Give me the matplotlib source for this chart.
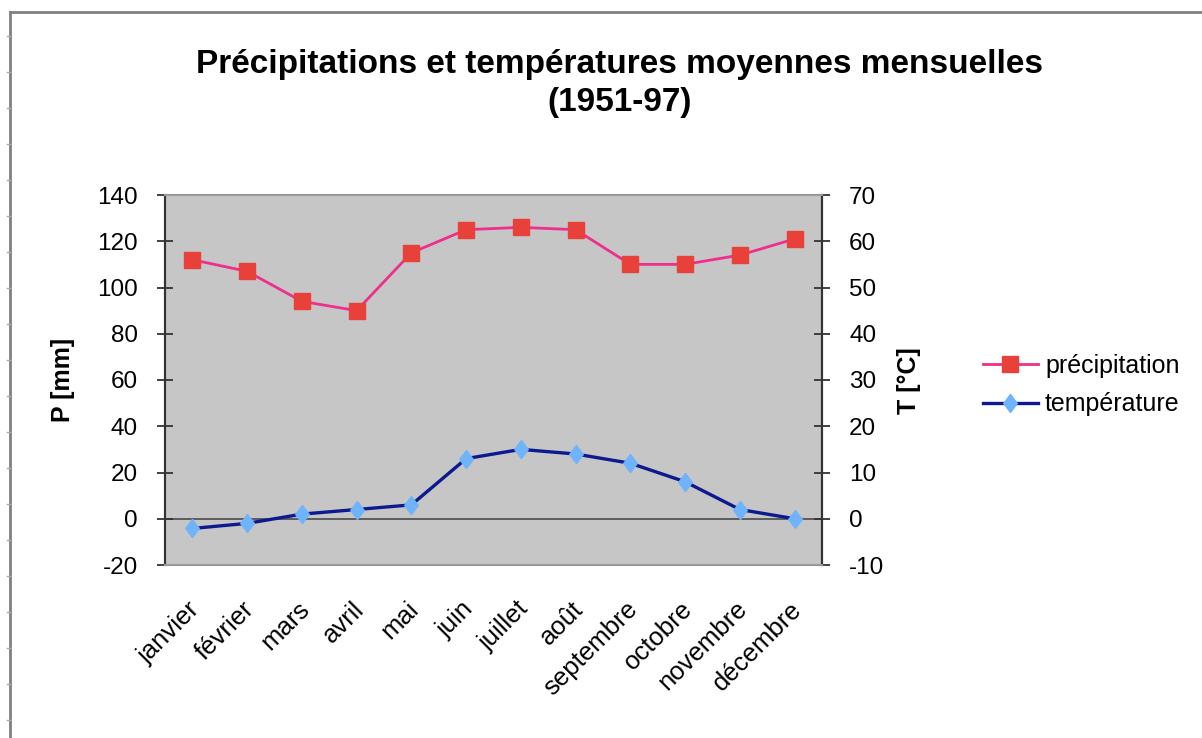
import matplotlib
matplotlib.use("Agg")
import matplotlib.pyplot as plt
from matplotlib.lines import Line2D
from matplotlib.transforms import ScaledTranslation

plt.rcParams['font.family'] = ['Liberation Sans', 'DejaVu Sans']
plt.rcParams['axes.unicode_minus'] = False

months = ['janvier', 'février', 'mars', 'avril', 'mai', 'juin', 'juillet',
          'août', 'septembre', 'octobre', 'novembre', 'décembre']
precip = [112, 107, 94, 90, 115, 125, 126, 125, 110, 110, 114, 121]
temp = [-2.1, -1.0, 1.0, 2.0, 3.0, 13.0, 15.0, 14.0, 12.0, 8.0, 2.0, 0.0]
p_ticks = [-20, 0, 20, 40, 60, 80, 100, 120, 140]
t_ticks = [-10, 0, 10, 20, 30, 40, 50, 60, 70]

diamond = [(0, 1), (0.75, 0), (0, -1), (-0.75, 0), (0, 1)]
p_style = dict(color='#ee2f8c', lw=2, marker='s', markersize=12,
               markerfacecolor='#e8413a', markeredgecolor='#e8413a')
t_style = dict(color='#0d1a8f', lw=2.4, marker=diamond, markersize=13,
               markerfacecolor='#6fb4fb', markeredgecolor='#6fb4fb')

fig = plt.figure(figsize=(12.02, 7.38), dpi=100)
ax = fig.add_axes([165/1202, 1 - 565/738, (822-165)/1202, (565-195)/738])
ax.set_facecolor('#c6c6c6')
ax2 = ax.twinx()

x = list(range(len(months)))
ax.axhline(0, color='#555555', lw=1.3, zorder=1)
ax.plot(x, precip, zorder=3, **p_style)
ax2.plot(x, temp, zorder=3, **t_style)

ax.set_xlim(-0.5, len(months) - 0.5)
ax.set_ylim(-20, 140)
ax2.set_ylim(-10, 70)
ax.set_yticks(p_ticks)
ax2.set_yticks(t_ticks)
ax.set_xticks(x)
ax.set_xticklabels(months, rotation=45, ha='right', rotation_mode='anchor', fontsize=18.5)
ax.tick_params(axis='x', length=0, pad=23)
shift = ScaledTranslation(-5/100, 0, fig.dpi_scale_trans)
for lbl in ax.get_xticklabels():
    lbl.set_transform(lbl.get_transform() + shift)
ax.tick_params(axis='y', direction='inout', length=11, width=1.3, color='#333333',
               labelsize=17.5, pad=14)
ax2.tick_params(axis='y', direction='inout', length=11, width=1.3, color='#333333',
                labelsize=17.5, pad=14)

for a in (ax, ax2):
    for s in ('left', 'right'):
        a.spines[s].set_color('#333333')
        a.spines[s].set_linewidth(1.5)
    for s in ('top', 'bottom'):
        a.spines[s].set_color('#9a9a9a')
        a.spines[s].set_linewidth(1.5)

fig.text(63/1202, 1 - 380/738, 'P [mm]', rotation=90, ha='center', va='center',
         fontsize=18, fontweight='bold')
fig.text(909/1202, 1 - 381/738, 'T [°C]', rotation=90, ha='center', va='center',
         fontsize=18, fontweight='bold')

fig.text(620/1202, 1 - 64/738, 'Précipitations et températures moyennes mensuelles',
         ha='center', va='center', fontsize=24, fontweight='bold')
fig.text(620/1202, 1 - 103/738, '(1951-97)', ha='center', va='center',
         fontsize=24, fontweight='bold')

handles = [Line2D([], [], **p_style), Line2D([], [], **t_style)]
fig.legend(handles, ['précipitation', 'température'], loc='center left',
           bbox_to_anchor=(973/1202, 1 - 385/738), frameon=False, fontsize=18,
           handlelength=2.2, handletextpad=0.28, labelspacing=0.6, borderaxespad=0)

# outer frame
fig.add_artist(Line2D([10/1202, 10/1202], [0, 1 - 12/738], transform=fig.transFigure,
                      color='#808080', lw=2))
fig.add_artist(Line2D([10/1202, 1], [1 - 12/738, 1 - 12/738], transform=fig.transFigure,
                      color='#808080', lw=2))
for yy in range(36, 738, 36):
    fig.add_artist(Line2D([7/1202, 10/1202], [1 - yy/738, 1 - yy/738],
                          transform=fig.transFigure, color='#aaaaaa', lw=1))

fig.savefig('out.png', dpi=100)
